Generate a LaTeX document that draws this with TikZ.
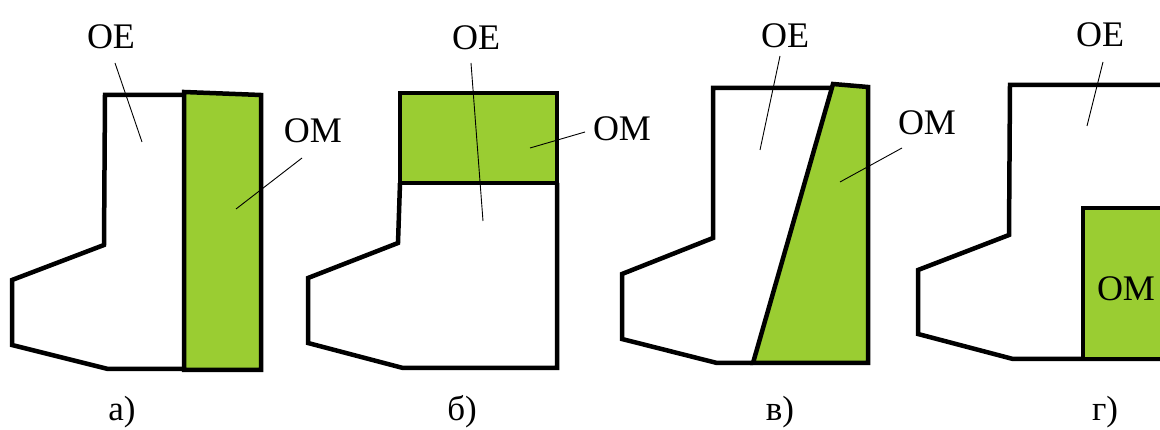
\documentclass[tikz,border=0pt]{standalone}
\usepackage{fontspec}
\setmainfont{Liberation Serif}
\newfontfamily\labelfont{Liberation Serif}
\newfontfamily\capfont[Script=Cyrillic]{Liberation Serif}
\definecolor{fillgreen}{RGB}{154,205,50}
\tikzset{
  outline/.style={draw=black, line width=4.5pt, line join=miter, fill=white},
  material/.style={draw=black, line width=4.5pt, line join=miter, fill=fillgreen},
  lbl/.style={inner sep=0pt, font=\labelfont\fontsize{36}{40}\selectfont},
  caption/.style={inner sep=0pt, font=\capfont\fontsize{35}{38}\selectfont},
  leader/.style={draw=black, line width=0.9pt}
}
\begin{document}
\begin{tikzpicture}[x=1pt, y=-1pt]
\useasboundingbox (0,0) rectangle (1160,430);
\clip (0,0) rectangle (1160,430);

% --- panel a: material strip along the right face
\draw[outline] (184,95) -- (105,95) -- (104,245) -- (12,280) -- (12,345) -- (108,369) -- (184,369);
\draw[material] (184,92) -- (261,95) -- (261,370) -- (184,370) -- cycle;
\node[lbl] (oeA) at (111,37) {OE};
\node[lbl] (omA) at (313,131) {OM};
\coordinate (oeAs) at (115,63);  \coordinate (oeAe) at (142,142);
\coordinate (omAs) at (302,158); \coordinate (omAe) at (236,209);
\draw[leader] (oeAs) -- (oeAe);
\draw[leader] (omAs) -- (omAe);
\node[caption] (capA) at (122,412) {а)};

% --- panel b: material block on top
\draw[outline] (400,183) -- (398,243) -- (308,278) -- (308,343) -- (403,368) -- (557,368) -- (557,183);
\draw[material] (400,93) rectangle (557,183);
\node[lbl] (oeB) at (476,38) {OE};
\node[lbl] (omB) at (622,129) {OM};
\coordinate (oeBs) at (471,63);  \coordinate (oeBe) at (483,221);
\coordinate (omBs) at (585,132); \coordinate (omBe) at (530,148);
\draw[leader] (oeBs) -- (oeBe);
\draw[leader] (omBs) -- (omBe);
\node[caption] (capB) at (462,412) {б)};

% --- panel c: wedge-shaped material on the right
\draw[outline] (753,363) -- (717,363) -- (622,339) -- (622,274) -- (713,238) -- (713,88) -- (832,88);
\draw[material] (833,84) -- (868,87) -- (868,363) -- (753,363) -- cycle;
\node[lbl] (oeC) at (785,36) {OE};
\node[lbl] (omC) at (927,123) {OM};
\coordinate (oeCs) at (780,56);  \coordinate (oeCe) at (760,150);
\coordinate (omCs) at (902,148); \coordinate (omCe) at (840,182);
\draw[leader] (oeCs) -- (oeCe);
\draw[leader] (omCs) -- (omCe);
\node[caption] (capC) at (780,412) {в)};

% --- panel d: material in the lower right corner
\draw[outline] (1175,85) -- (1010,85) -- (1009,235) -- (918,270) -- (918,334) -- (1013,359) -- (1175,359);
\draw[material] (1083,208) -- (1175,208) -- (1175,359) -- (1083,359) -- cycle;
\node[lbl] (oeD) at (1100,35) {OE};
\node[lbl] (omD) at (1126,289) {OM};
\coordinate (oeDs) at (1103,62); \coordinate (oeDe) at (1087,126);
\draw[leader] (oeDs) -- (oeDe);
\node[caption] (capD) at (1105,412) {г)};
\end{tikzpicture}
\end{document}
